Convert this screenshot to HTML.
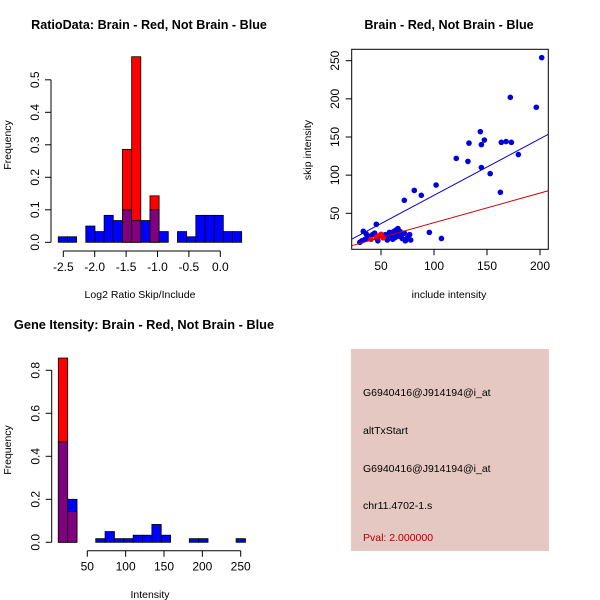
<!DOCTYPE html>
<html><head><meta charset="utf-8"><style>
body{margin:0;background:#fff;}
svg{display:block;font-family:"Liberation Sans",Arial,sans-serif;}
</style></head><body>
<svg id="c" width="600" height="600" xmlns="http://www.w3.org/2000/svg"></svg>
<script>
// Panel 1: ratio histogram
const ratioEdgesStart = -2.58, ratioBinWidth = 0.146;
const ratioBlue = [0.017,0.017,0,0.05,0.033,0.083,0.067,0.1,0.067,0.067,0.1,0.033,0,0.033,0.017,0.083,0.083,0.083,0.033,0.033];
const ratioRed  = [0,0,0,0,0,0,0,0.286,0.571,0,0.143,0,0,0,0,0,0,0,0,0];
const ratioXTicks = [-2.5,-2.0,-1.5,-1.0,-0.5,0.0];
const ratioYTicks = [0.0,0.1,0.2,0.3,0.4,0.5];
// Panel 2: scatter
const blueX = [201.6,172,196.5,143.7,133,144.7,147.5,163.5,168,173,179.6,121,132,144.7,153,162.6,102,81.4,88,72,45.6,95.6,107,33.3,
 30,32,35,37,40,42,44,46,48,52,54,56,58,60,62,63,64,65,66,67,68,70,72,75,77,78,36,55,61,69,47,58,64,73];
const blueY = [254,202,189,157,142,140,146,143,144,143,127,122,118,110,102,77.5,87,80,73.6,67,35.6,25,17,26.4,
 12,14,16,18,20,22,24,17,20,18,22,15,24,20,26,18,28,22,30,20,26,17,24,18,22,15,23,19,16,21,14,25,19,14];
const redX = [40.6,50,46,52];
const redY = [16,22.5,19,18];
const blueFit = [-0.5,0.741]; // intercept, slope
const redFit = [-1.1,0.388];
const scatXTicks=[50,100,150,200], scatYTicks=[50,100,150,200,250];
// Panel 3: intensity histogram
const intStart = 12.2, intBinWidth = 12.2;
const intBlue = [0.467,0.2,0,0,0.017,0.05,0.017,0.017,0.033,0.033,0.083,0.033,0,0,0.017,0.017,0,0,0,0.017];
const intRed  = [0.857,0.143,0,0,0,0,0,0,0,0,0,0,0,0,0,0,0,0,0,0];
const intXTicks=[50,100,150,200,250], intYTicks=[0.0,0.2,0.4,0.6,0.8];
const infoLines=["G6940416@J914194@i_at","altTxStart","G6940416@J914194@i_at","chr11.4702-1.s"];
const pvalText="Pval: 2.000000";

const svg=document.getElementById('c');
const NS="http://www.w3.org/2000/svg";
function el(t,a,p){const e=document.createElementNS(NS,t);for(const k in a)e.setAttribute(k,a[k]);(p||svg).appendChild(e);return e;}
function txt(s,x,y,a,p){const e=el('text',Object.assign({x:x,y:y,'font-size':12,fill:'#000'},a||{}),p);e.textContent=s;return e;}

function hist(g,edge0,bw,blue,red,sx,sy){
  for(let i=0;i<blue.length;i++){
    const x0=sx(edge0+i*bw),x1=sx(edge0+(i+1)*bw),b=blue[i],r=red[i];
    const top=Math.max(b,r),m=Math.min(b,r);
    if(top<=0)continue;
    const col=b>=r?'#0000ff':'#ff0000';
    const h=el('rect',{x:x0,y:sy(top),width:x1-x0,height:sy(0)-sy(top),fill:col,stroke:'#000','stroke-width':0.8},g);
    
    
    if(m>0){const p=el('rect',{x:x0,y:sy(m),width:x1-x0,height:sy(0)-sy(m),fill:'#800080',stroke:'#000','stroke-width':0.8},g);
      
      }
  }
}
function yaxis(g,x,ticks,sy,fmt){
  el('line',{x1:x,x2:x,y1:sy(ticks[0]),y2:sy(ticks[ticks.length-1]),stroke:'#000'},g);
  ticks.forEach(t=>{el('line',{x1:x-6,x2:x,y1:sy(t),y2:sy(t),stroke:'#000'},g);
    txt(fmt(t),x-12,sy(t),{'text-anchor':'middle',transform:`rotate(-90 ${x-12} ${sy(t)})`},g);});
}
function xaxis(g,y,ticks,sx,fmt){
  el('line',{x1:sx(ticks[0]),x2:sx(ticks[ticks.length-1]),y1:y,y2:y,stroke:'#000'},g);
  ticks.forEach(t=>{el('line',{x1:sx(t),x2:sx(t),y1:y,y2:y+6,stroke:'#000'},g);
    txt(fmt(t),sx(t),y+20,{'text-anchor':'middle'},g);});
}

// Panel 1
{const g=el('g',{});
 const sx=v=>63.3+(v+2.5)*62.8, sy=v=>242.3-v*325;
 hist(g,ratioEdgesStart,ratioBinWidth,ratioBlue,ratioRed,sx,sy);
 yaxis(g,51,ratioYTicks,sy,t=>t.toFixed(1));
 xaxis(g,251,ratioXTicks,sx,t=>t.toFixed(1));
 txt('RatioData: Brain - Red, Not Brain - Blue',149,29,{'text-anchor':'middle','font-weight':'bold','font-size':12.6,},g);
 txt('Log2 Ratio Skip/Include',140,298,{'text-anchor':'middle','font-size':10.5,},g);
 txt('Frequency',11,145,{'text-anchor':'middle','font-size':10.5,transform:'rotate(-90 11 145)',},g);}

// Panel 2
{const g=el('g',{});
 const sx=v=>381+(v-50)*1.06, sy=v=>213.3-(v-50)*0.763;
 const dmin=(351.7-381)/1.06+50, dmax=(548.3-381)/1.06+50;
 el('rect',{x:351.7,y:49.3,width:196.6,height:200,fill:'none',stroke:'#000'},g);
 const cp=el('clipPath',{id:'cp'},g);el('rect',{x:351.7,y:49.3,width:196.6,height:200},cp);
 blueX.forEach((x,i)=>{const c=el('circle',{cx:sx(x),cy:sy(blueY[i]),r:2.8,fill:'#0000dd'},g);
   
   });
 redX.forEach((x,i)=>{const c=el('circle',{cx:sx(x),cy:sy(redY[i]),r:2.8,fill:'#ff0000'},g);
   
   });
 [[blueFit,'#0000cc','blue-fit-line'],[redFit,'#cc0000','red-fit-line']].forEach(([f,c,n])=>{
   el('line',{x1:sx(dmin),y1:sy(f[0]+f[1]*dmin),x2:sx(dmax),y2:sy(f[0]+f[1]*dmax),stroke:c,'clip-path':'url(#cp)',},g);});
 scatXTicks.forEach(t=>{el('line',{x1:sx(t),x2:sx(t),y1:249.3,y2:255.3,stroke:'#000'},g);txt(String(t),sx(t),270,{'text-anchor':'middle'},g);});
 scatYTicks.forEach(t=>{el('line',{x1:345.7,x2:351.7,y1:sy(t),y2:sy(t),stroke:'#000'},g);txt(String(t),339,sy(t),{'text-anchor':'middle',transform:`rotate(-90 339 ${sy(t)})`},g);});
 txt('Brain - Red, Not Brain - Blue',449,29,{'text-anchor':'middle','font-weight':'bold','font-size':12.6,},g);
 txt('include intensity',449,298,{'text-anchor':'middle','font-size':10.5,},g);
 txt('skip intensity',311,150,{'text-anchor':'middle','font-size':10.5,transform:'rotate(-90 311 150)',},g);}

// Panel 3
{const g=el('g',{});
 const sx=v=>87.3+(v-50)*0.767, sy=v=>542.3-v*215;
 hist(g,intStart,intBinWidth,intBlue,intRed,sx,sy);
 yaxis(g,51.7,intYTicks,sy,t=>t.toFixed(1));
 xaxis(g,550.7,intXTicks,sx,t=>String(t));
 txt('Gene Itensity: Brain - Red, Not Brain - Blue',144,329,{'text-anchor':'middle','font-weight':'bold','font-size':12.8,},g);
 txt('Intensity',150,598,{'text-anchor':'middle','font-size':10.5,},g);
 txt('Frequency',11,450,{'text-anchor':'middle','font-size':10.5,transform:'rotate(-90 11 450)',},g);}

// Panel 4
{const g=el('g',{});
 el('rect',{x:351,y:349,width:198,height:202,fill:'#e6c8c2'},g);
 const ys=[396,434,472,509];
 infoLines.forEach((s,i)=>txt(s,363,ys[i],{'font-size':10.5,},g));
 txt(pvalText,363,541,{'font-size':10.5,fill:'#aa0000',},g);}
</script>
</body></html>
